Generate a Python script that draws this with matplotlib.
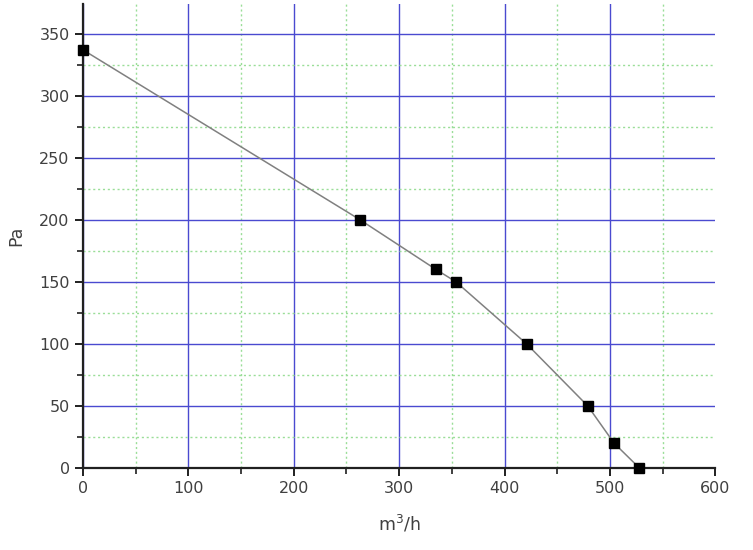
import matplotlib
matplotlib.use("Agg")
import matplotlib.pyplot as plt
from matplotlib.ticker import MultipleLocator

# fan curve: airflow (m3/h) vs pressure (Pa)
flow = [0, 263, 335, 354, 421, 479, 504, 528]
pressure = [337, 200, 160, 150, 100, 50, 20, 0]

fig = plt.figure(figsize=(7.53, 5.5), dpi=100)
ax = fig.add_axes([0.110, 0.149, 0.840, 0.844])

ax.plot(flow, pressure, color="#808080", linewidth=1.1, zorder=3)
ax.plot(flow, pressure, linestyle="none", marker="s", markersize=6.5,
        color="black", zorder=4, clip_on=False)

ax.set_xlim(0, 600)
ax.set_ylim(0, 374)
ax.xaxis.set_major_locator(MultipleLocator(100))
ax.xaxis.set_minor_locator(MultipleLocator(50))
ax.yaxis.set_major_locator(MultipleLocator(50))
ax.yaxis.set_minor_locator(MultipleLocator(25))

ax.grid(which="major", color="#4a4ad0", linewidth=1.0, linestyle="-")
ax.grid(which="minor", color="#9ade98", linewidth=1.0, linestyle=(0, (1.5, 2)))
ax.set_axisbelow(True)

for s in ["top", "right"]:
    ax.spines[s].set_visible(False)
for s in ["left", "bottom"]:
    ax.spines[s].set_linewidth(1.6)
    ax.spines[s].set_color("#202020")

ax.tick_params(which="major", direction="out", length=6, width=1.4,
               labelsize=11.5, colors="#202020", labelcolor="#404040")
ax.tick_params(which="minor", direction="out", length=4, width=1.2,
               colors="#202020")

ax.set_xlabel("m$^3$/h", fontsize=12.5, color="#404040", labelpad=12)
ax.set_ylabel("Pa", fontsize=12.5, color="#404040", labelpad=10)

# no vertical grid line on the right edge (x = 600)
fig.canvas.draw()
for tick in ax.xaxis.get_major_ticks():
    if abs(tick.get_loc() - 600) < 1e-6:
        tick.gridline.set_visible(False)

fig.savefig("out.png", dpi=100)
